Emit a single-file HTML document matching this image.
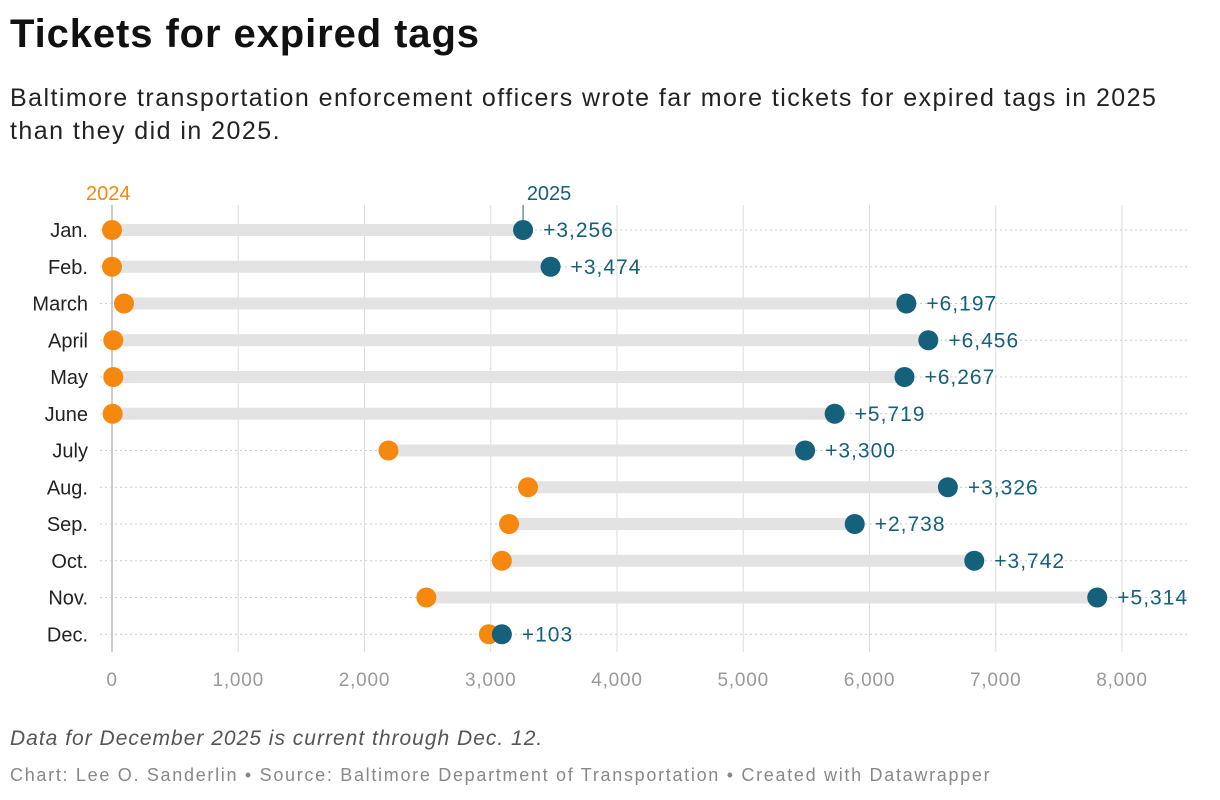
<!DOCTYPE html>
<html><head><meta charset="utf-8"><style>
body{margin:0;background:#fff;font-family:"Liberation Sans",Roboto,sans-serif;}
#wrap{position:relative;width:1220px;height:800px;overflow:hidden}
h1{position:absolute;left:10px;top:12px;margin:0;font-size:40px;font-weight:bold;color:#111;letter-spacing:0.9px}
.sub{position:absolute;left:10px;top:82px;font-size:25px;line-height:33px;color:#222;width:1210px;letter-spacing:1.45px;white-space:nowrap}
.note{position:absolute;left:10px;top:727px;font-size:21px;font-style:italic;color:#555;letter-spacing:1px}
.src{position:absolute;left:10px;top:765px;font-size:18px;color:#888;letter-spacing:1.7px}
svg{position:absolute;left:0;top:0}
</style></head><body><div id="wrap">
<h1>Tickets for expired tags</h1>
<div class="sub">Baltimore transportation enforcement officers wrote far more tickets for expired tags in 2025<br>than they did in 2025.</div>
<svg id="chart" width="1220" height="800"></svg>
<div class="note">Data for December 2025 is current through Dec. 12.</div>
<div class="src">Chart: Lee O. Sanderlin • Source: Baltimore Department of Transportation • Created with Datawrapper</div>
</div>
<script>
const months=["Jan.","Feb.","March","April","May","June","July","Aug.","Sep.","Oct.","Nov.","Dec."];
const v2024=[0,0,95,10,10,5,2190,3295,3145,3088,2490,2985];
const v2025=[3256,3474,6292,6466,6277,5724,5490,6621,5883,6830,7804,3088];
const ticks=[0,1000,2000,3000,4000,5000,6000,7000,8000];
const NS="http://www.w3.org/2000/svg";
const svg=document.getElementById('chart');
const x=v=>112+v*126.25/1000;
const y=i=>230+i*36.75;
function mk(t,a,p){const e=document.createElementNS(NS,t);for(const k in a)e.setAttribute(k,a[k]);(p||svg).appendChild(e);return e;}
ticks.forEach(t=>{
 const g=mk('line',{x1:x(t),x2:x(t),y1:205,y2:652,stroke:t===0?'#999':'#ddd','stroke-width':1});
 
 
 const l=mk('text',{x:x(t),y:686,'text-anchor':'middle','font-size':19,fill:'#999','letter-spacing':0.8});
 l.textContent=t.toLocaleString('en-US');
 
 
});
months.forEach((m,i)=>{
 const r=mk('line',{x1:100,x2:1190,y1:y(i),y2:y(i),stroke:'#ccc','stroke-dasharray':'2,3'});
 
 
 const t=mk('text',{x:88,y:y(i)+7,'text-anchor':'end','font-size':20,fill:'#222'});
 t.textContent=m;
 
 
 const b=mk('line',{x1:x(v2024[i]),x2:x(v2025[i]),y1:y(i),y2:y(i),stroke:'#e3e3e3','stroke-width':12});
 
 
 const a=mk('circle',{cx:x(v2024[i]),cy:y(i),r:10,fill:'#f5890f'});
 
 
 const c=mk('circle',{cx:x(v2025[i]),cy:y(i),r:10,fill:'#15607a'});
 
 
 const d=mk('text',{x:x(Math.max(v2024[i],v2025[i]))+20,y:y(i)+7,'font-size':21,fill:'#15607a','letter-spacing':1});
 d.textContent='+'+(v2025[i]-v2024[i]).toLocaleString('en-US');
 
 
});
const l1=mk('text',{x:x(v2024[0])-26,y:200,'font-size':20,fill:'#f5890f'});l1.textContent='2024';


const l2=mk('text',{x:x(v2025[0])+26,y:200,'text-anchor':'middle','font-size':20,fill:'#15607a'});l2.textContent='2025';


const tk=mk('line',{x1:x(v2025[0]),x2:x(v2025[0]),y1:205,y2:220,stroke:'#15607a'});


</script></body></html>
